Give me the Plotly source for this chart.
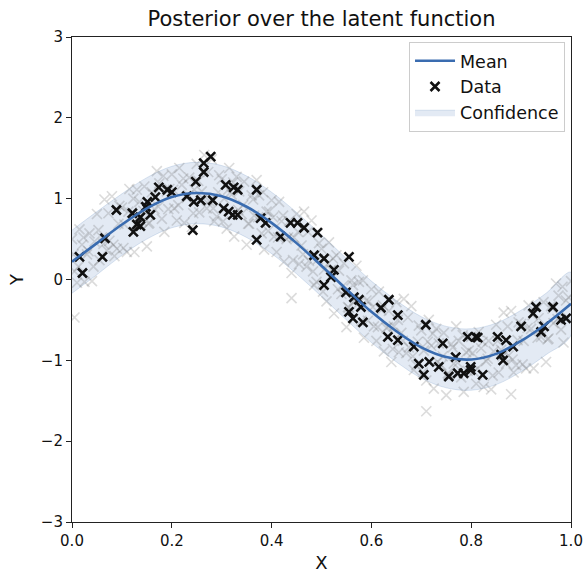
import plotly.graph_objects as go

# Posterior mean and confidence band
grid_x = [0.00, 0.05, 0.10, 0.15, 0.20, 0.25, 0.30, 0.35, 0.40, 0.45, 0.50,
          0.55, 0.60, 0.65, 0.70, 0.75, 0.80, 0.85, 0.90, 0.95, 1.00]
mean_y = [0.22, 0.45, 0.68, 0.88, 1.02, 1.07, 1.03, 0.90, 0.70, 0.45, 0.17,
          -0.12, -0.40, -0.64, -0.84, -0.96, -0.99, -0.92, -0.76, -0.55, -0.30]
upper_y = [0.61, 0.84, 1.06, 1.26, 1.40, 1.45, 1.41, 1.28, 1.08, 0.83, 0.55,
           0.26, -0.02, -0.26, -0.46, -0.58, -0.61, -0.54, -0.38, -0.17, 0.09]
lower_y = [-0.17, 0.06, 0.30, 0.50, 0.64, 0.69, 0.65, 0.52, 0.32, 0.07, -0.21,
           -0.50, -0.78, -1.02, -1.22, -1.34, -1.37, -1.30, -1.14, -0.93, -0.69]

# Observed data (black crosses)
data_x = [0.015, 0.021, 0.061, 0.066, 0.089, 0.123, 0.137, 0.121, 0.157, 0.151,
          0.174, 0.191, 0.167, 0.137, 0.130, 0.148, 0.278, 0.264, 0.264, 0.248,
          0.244, 0.258, 0.282, 0.242, 0.308, 0.332, 0.324, 0.314, 0.304, 0.332,
          0.370, 0.378, 0.388, 0.370, 0.322, 0.438, 0.452, 0.465, 0.492, 0.418,
          0.485, 0.505, 0.555, 0.525, 0.519, 0.505, 0.565, 0.579, 0.549, 0.555,
          0.563, 0.575, 0.583, 0.635, 0.619, 0.653, 0.709, 0.633, 0.653, 0.685,
          0.743, 0.793, 0.809, 0.769, 0.695, 0.716, 0.705, 0.735, 0.755, 0.773,
          0.785, 0.799, 0.813, 0.799, 0.823, 0.853, 0.860, 0.864, 0.884, 0.900,
          0.924, 0.930, 0.940, 0.946, 0.964, 0.980, 0.990, 0.870, 0.200, 0.230]
data_y = [0.28, 0.08, 0.28, 0.51, 0.86, 0.59, 0.66, 0.82, 0.80, 0.96,
          1.14, 1.11, 1.02, 0.77, 0.68, 0.90, 1.52, 1.44, 1.33, 1.21,
          0.96, 0.98, 0.98, 0.61, 1.17, 1.11, 1.14, 0.84, 0.88, 0.80,
          1.11, 0.76, 0.70, 0.49, 0.80, 0.70, 0.70, 0.64, 0.58, 0.53,
          0.30, 0.26, 0.28, 0.12, 0.03, -0.07, -0.22, -0.34, -0.16, -0.40,
          -0.48, -0.25, -0.53, -0.25, -0.35, -0.44, -0.56, -0.71, -0.75, -0.83,
          -0.79, -0.71, -0.71, -0.96, -1.04, -1.02, -1.18, -1.08, -1.20, -1.16,
          -1.16, -1.08, -0.72, -1.12, -1.18, -0.71, -0.93, -1.00, -0.83, -0.58,
          -0.42, -0.34, -0.65, -0.58, -0.34, -0.50, -0.48, -0.75, 1.08, 1.03]

# Posterior samples (light grey crosses)
samp_x = [0.00, 0.01, 0.02, 0.03, 0.04, 0.05, 0.06, 0.07, 0.08, 0.09,
          0.10, 0.11, 0.12, 0.13, 0.14, 0.15, 0.16, 0.17, 0.18, 0.19,
          0.20, 0.21, 0.22, 0.23, 0.24, 0.25, 0.26, 0.27, 0.28, 0.29,
          0.30, 0.31, 0.32, 0.33, 0.34, 0.35, 0.36, 0.37, 0.38, 0.39,
          0.40, 0.41, 0.42, 0.43, 0.44, 0.45, 0.46, 0.47, 0.48, 0.49,
          0.50, 0.51, 0.52, 0.53, 0.54, 0.55, 0.56, 0.57, 0.58, 0.59,
          0.60, 0.61, 0.62, 0.63, 0.64, 0.65, 0.66, 0.67, 0.68, 0.69,
          0.70, 0.71, 0.72, 0.73, 0.74, 0.75, 0.76, 0.77, 0.78, 0.79,
          0.80, 0.81, 0.82, 0.83, 0.84, 0.85, 0.86, 0.87, 0.88, 0.89,
          0.90, 0.91, 0.92, 0.93, 0.94, 0.95, 0.96, 0.97, 0.98, 0.99, 1.00,
          0.005, 0.015, 0.025, 0.035, 0.045, 0.055, 0.065, 0.075, 0.085, 0.095,
          0.105, 0.115, 0.125, 0.135, 0.145, 0.155, 0.165, 0.175, 0.185, 0.195,
          0.205, 0.215, 0.225, 0.235, 0.245, 0.255, 0.265, 0.275, 0.285, 0.295,
          0.305, 0.315, 0.325, 0.335, 0.345, 0.355, 0.365, 0.375, 0.385, 0.395,
          0.405, 0.415, 0.425, 0.435, 0.445, 0.455, 0.465, 0.475, 0.485, 0.495,
          0.505, 0.515, 0.525, 0.535, 0.545, 0.555, 0.565, 0.575, 0.585, 0.595,
          0.605, 0.615, 0.625, 0.635, 0.645, 0.655, 0.665, 0.675, 0.685, 0.695,
          0.705, 0.715, 0.725, 0.735, 0.745, 0.755, 0.765, 0.775, 0.785, 0.795,
          0.805, 0.815, 0.825, 0.835, 0.845, 0.855, 0.865, 0.875, 0.885, 0.895,
          0.905, 0.915, 0.925, 0.935, 0.945, 0.955, 0.965, 0.975, 0.985, 0.995,
          0.003, 0.013, 0.023, 0.033, 0.043, 0.053, 0.063, 0.073, 0.083, 0.093,
          0.103, 0.113, 0.123, 0.133, 0.143, 0.153, 0.163, 0.173, 0.183, 0.193,
          0.203, 0.213, 0.223, 0.233, 0.243, 0.253, 0.263, 0.273, 0.283, 0.293,
          0.303, 0.313, 0.323, 0.333, 0.343, 0.353, 0.363, 0.373, 0.383, 0.393,
          0.403, 0.413, 0.423, 0.433, 0.443, 0.453, 0.463, 0.473, 0.483, 0.493,
          0.503, 0.513, 0.523, 0.533, 0.543, 0.553, 0.563, 0.573, 0.583, 0.593,
          0.603, 0.613, 0.623, 0.633, 0.643, 0.653, 0.663, 0.673, 0.683, 0.693,
          0.703, 0.713, 0.723, 0.733, 0.743, 0.753, 0.763, 0.773, 0.783, 0.793,
          0.803, 0.813, 0.823, 0.833, 0.843, 0.853, 0.863, 0.873, 0.883, 0.893,
          0.903, 0.913, 0.923, 0.933, 0.943, 0.953, 0.963, 0.973, 0.983, 0.993,
          0.005, 0.440, 0.710, 0.880]
samp_y = [0.50, -0.04, 0.43, 0.31, -0.02, 0.81, 0.52, 0.36, 1.03, 0.38,
          0.89, 0.34, 0.83, 1.11, 0.72, 0.41, 1.08, 1.34, 0.75, 1.09,
          1.30, 0.73, 1.17, 1.01, 0.65, 1.43, 1.09, 0.88, 1.49, 0.78,
          1.24, 0.63, 1.05, 1.27, 0.81, 0.43, 1.04, 1.23, 0.57, 0.84,
          0.98, 0.34, 0.72, 0.50, 0.08, 0.81, 0.42, 0.16, 0.73, -0.03,
          0.38, -0.27, 0.12, 0.30, -0.18, -0.59, -0.01, 0.17, -0.51, -0.26,
          -0.12, -0.76, -0.38, -0.60, -1.02, -0.28, -0.66, -0.91, -0.33, -1.06,
          -0.63, -1.25, -0.82, -0.61, -1.06, -1.43, -0.80, -0.58, -1.21, -0.90,
          -0.71, -1.29, -0.85, -1.01, -1.36, -0.56, -0.87, -1.04, -0.39, -1.06,
          -0.55, -1.10, -0.61, -0.33, -0.71, -1.02, -0.33, -0.05, -0.62, -0.26, -0.02,
          0.10, 0.62, -0.03, 0.57, 0.47, 0.24, 0.99, 0.48, 0.29, 0.91,
          0.68, 1.12, 0.34, 0.96, 1.15, 0.70, 0.87, 1.19, 0.59, 1.12,
          0.88, 1.38, 0.70, 1.26, 1.11, 0.83, 1.54, 0.97, 0.72, 1.29,
          1.00, 1.38, 0.53, 1.09, 1.21, 0.69, 0.79, 1.04, 0.37, 0.84,
          0.53, 0.96, 0.22, 0.72, 0.52, 0.19, 0.84, 0.23, -0.07, 0.45,
          0.12, 0.46, -0.42, 0.11, 0.20, -0.35, -0.27, -0.03, -0.72, -0.27,
          -0.58, -0.15, -0.89, -0.39, -0.58, -0.90, -0.24, -0.84, -1.12, -0.57,
          -0.88, -0.50, -1.35, -0.79, -0.66, -1.17, -1.04, -0.76, -1.39, -0.88,
          -1.14, -0.65, -1.33, -0.76, -0.89, -1.15, -0.41, -0.94, -1.15, -0.53,
          -0.76, -0.32, -1.10, -0.48, -0.28, -0.73, -0.54, -0.20, -0.78, -0.22,
          0.31, 0.16, 0.52, 0.35, 0.16, 0.61, 0.44, 0.82, 0.43, 0.69,
          0.39, 0.84, 1.00, 0.72, 0.85, 0.69, 1.05, 0.90, 1.28, 0.87,
          1.11, 0.92, 1.25, 1.04, 0.82, 1.22, 1.00, 1.33, 0.88, 1.08,
          0.72, 1.11, 1.20, 0.86, 0.92, 0.69, 0.99, 0.77, 1.08, 0.60,
          0.77, 0.52, 0.79, 0.52, 0.24, 0.59, 0.31, 0.59, 0.10, 0.25,
          -0.15, 0.20, 0.26, -0.12, -0.08, -0.34, -0.07, -0.30, -0.01, -0.51,
          -0.34, -0.59, -0.32, -0.59, -0.86, -0.50, -0.76, -0.47, -0.95, -0.77,
          -1.15, -0.77, -0.67, -1.02, -0.95, -1.16, -0.84, -1.03, -0.69, -1.13,
          -0.91, -1.10, -0.77, -0.98, -1.19, -0.76, -0.95, -0.58, -0.99, -0.75,
          -1.05, -0.60, -0.44, -0.72, -0.58, -0.74, -0.36, -0.49, -0.09, -0.47,
          -0.47, -0.23, -1.63, -1.42]

x_ticks = [0.0, 0.2, 0.4, 0.6, 0.8, 1.0]
x_tick_text = ["0.0", "0.2", "0.4", "0.6", "0.8", "1.0"]
y_ticks = [-3, -2, -1, 0, 1, 2, 3]
y_tick_text = ["\u22123", "\u22122", "\u22121", "0", "1", "2", "3"]

FONT = "DejaVu Sans"
LINE_COLOR = "#3a6cb0"

fig = go.Figure()

fig.add_trace(go.Scatter(
    x=grid_x + grid_x[::-1], y=upper_y + lower_y[::-1],
    mode="lines", fill="toself", line=dict(width=0.8, color="rgba(58,108,176,0.22)", shape="spline"),
    fillcolor="rgba(58,108,176,0.14)", name="Confidence", legendrank=3, hoverinfo="skip"))

fig.add_trace(go.Scatter(
    x=samp_x, y=samp_y, mode="markers", showlegend=False,
    marker=dict(symbol="x-thin", size=10, color="rgba(110,110,110,0.25)",
                line=dict(width=1.6, color="rgba(110,110,110,0.25)"))))

fig.add_trace(go.Scatter(
    x=data_x, y=data_y, mode="markers", name="Data", legendrank=2,
    marker=dict(symbol="x-thin", size=9, color="#111111",
                line=dict(width=2.6, color="#111111"))))

fig.add_trace(go.Scatter(
    x=grid_x, y=mean_y, mode="lines", name="Mean", legendrank=1,
    line=dict(color=LINE_COLOR, width=2.6, shape="spline")))

axis_common = dict(showline=True, mirror=True, linecolor="#222222", linewidth=1.1,
                   ticks="outside", ticklen=5, tickwidth=1.1, tickcolor="#222222",
                   showgrid=False, zeroline=False, automargin=False,
                   tickfont=dict(family=FONT, size=15, color="#111111"))

fig.update_layout(
    width=586, height=573,
    margin=dict(l=72, r=15, t=37, b=51),
    plot_bgcolor="white", paper_bgcolor="white",
    font=dict(family=FONT, color="#111111"),
    title=dict(text="Posterior over the latent function", x=0.5, xref="paper",
               y=0.968, yref="container", xanchor="center", yanchor="middle",
               font=dict(family=FONT, size=21, color="#111111")),
    xaxis=dict(range=[0, 1], tickvals=x_ticks, ticktext=x_tick_text,
               title=dict(text="X", font=dict(family=FONT, size=18), standoff=11),
               **axis_common),
    yaxis=dict(range=[-3, 3], tickvals=y_ticks, ticktext=y_tick_text,
               title=dict(text="Y", font=dict(family=FONT, size=18), standoff=12),
               **axis_common),
    legend=dict(x=0.988, y=0.99, xanchor="right", yanchor="top",
                bgcolor="rgba(255,255,255,0.85)", bordercolor="#cccccc", borderwidth=1,
                font=dict(family=FONT, size=17.5, color="#111111"),
                itemwidth=40, tracegroupgap=0),
    showlegend=True,
)

fig.write_html("out.html")
